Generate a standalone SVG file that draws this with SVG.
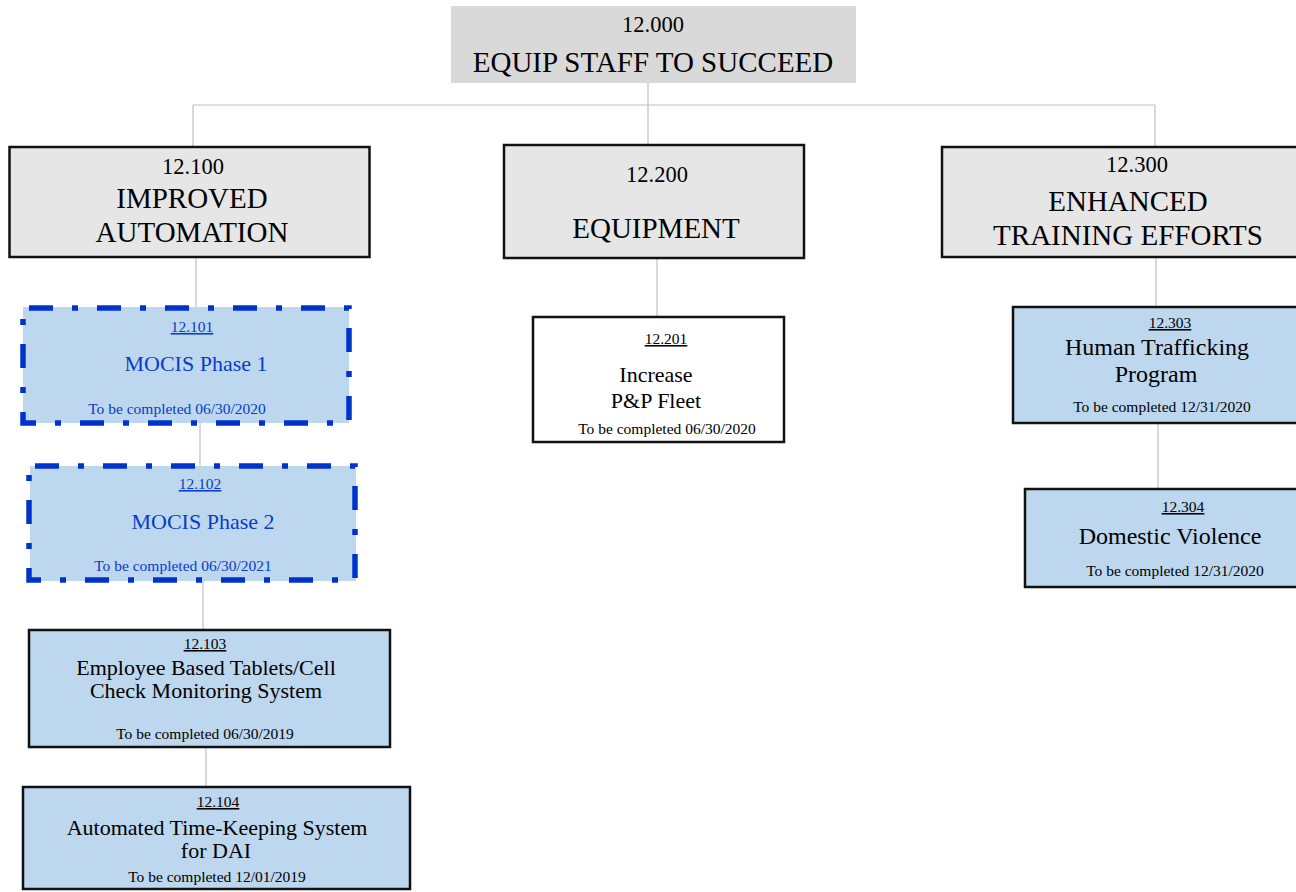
<svg xmlns="http://www.w3.org/2000/svg" width="1296" height="892" viewBox="0 0 1296 892">
<style>
text{font-family:"Liberation Serif","Times New Roman",serif;text-anchor:middle;fill:#000}
.big{font-size:29px}
.num{font-size:22.5px}
.snum{font-size:15.5px;text-decoration:underline}
.mid{font-size:22px}
.mid2{font-size:24px}
.date{font-size:15.5px}
.blue{fill:#0a3bcc}
.l1{fill:#e6e6e6;stroke:#111;stroke-width:2.5}
.leaf{fill:#bdd7ee;stroke:#111;stroke-width:2.5}
.white{fill:#fff;stroke:#111;stroke-width:2.5}
.dfill{fill:#bdd7ee;stroke:none}
.dash{fill:none;stroke:#0033cc;stroke-width:5.5;stroke-dasharray:24 19 6 19;stroke-dashoffset:62}
.conn line{stroke:#c0c0c0;stroke-width:1.2}
</style>
<rect width="1296" height="892" fill="#fff"/>
<g class="conn" id="connectors">
<line x1="648" y1="83" x2="648" y2="145"/>
<line x1="193" y1="105" x2="1155" y2="105"/>
<line x1="193" y1="105" x2="193" y2="147"/>
<line x1="1155" y1="105" x2="1155" y2="147"/>
<line x1="196" y1="257" x2="196" y2="308"/>
<line x1="200" y1="423" x2="200" y2="466"/>
<line x1="203" y1="581" x2="203" y2="630"/>
<line x1="206" y1="747" x2="206" y2="787"/>
<line x1="657" y1="258" x2="657" y2="317"/>
<line x1="1156" y1="257" x2="1156" y2="307"/>
<line x1="1158" y1="423" x2="1158" y2="489"/>
</g>
<g id="n12000">
<rect x="451" y="6" width="405" height="77" fill="#d9d9d9"/>
<text class="num" x="653" y="32">12.000</text>
<text class="big" x="653" y="72">EQUIP STAFF TO SUCCEED</text>
</g>
<g id="n12100">
<rect class="l1" x="9.5" y="147" width="360" height="110"/>
<text class="num" x="193" y="174">12.100</text>
<text class="big" x="192" y="208">IMPROVED</text>
<text class="big" x="192" y="242">AUTOMATION</text>
</g>
<g id="n12101">
<rect class="dfill" x="23" y="307" width="326" height="116"/>
<rect class="dash" x="23" y="308" width="326" height="115"/>
<text class="snum blue" x="192" y="332">12.101</text>
<text class="mid blue" x="196" y="371">MOCIS Phase 1</text>
<text class="date blue" x="177" y="414">To be completed 06/30/2020</text>
</g>
<g id="n12102">
<rect class="dfill" x="30" y="466" width="326" height="115"/>
<rect class="dash" x="29" y="466" width="326" height="114"/>
<text class="snum blue" x="200" y="489">12.102</text>
<text class="mid blue" x="203" y="529">MOCIS Phase 2</text>
<text class="date blue" x="183" y="571">To be completed 06/30/2021</text>
</g>
<g id="n12103">
<rect class="leaf" x="29" y="630" width="361" height="117"/>
<text class="snum" x="205" y="649">12.103</text>
<text class="mid" x="206" y="675">Employee Based Tablets/Cell</text>
<text class="mid" x="206" y="698">Check Monitoring System</text>
<text class="date" x="205" y="739">To be completed 06/30/2019</text>
</g>
<g id="n12104">
<rect class="leaf" x="23" y="787" width="387" height="102"/>
<text class="snum" x="218" y="807">12.104</text>
<text class="mid" x="217" y="835">Automated Time-Keeping System</text>
<text class="mid" x="216" y="858">for DAI</text>
<text class="date" x="217" y="882">To be completed 12/01/2019</text>
</g>
<g id="n12200">
<rect class="l1" x="504" y="145" width="300" height="113"/>
<text class="num" x="657" y="182">12.200</text>
<text class="big" x="656" y="238">EQUIPMENT</text>
</g>
<g id="n12201">
<rect class="white" x="533" y="317" width="251" height="125"/>
<text class="snum" x="666" y="344">12.201</text>
<text class="mid" x="656" y="382">Increase</text>
<text class="mid" x="656" y="408">P&amp;P Fleet</text>
<text class="date" x="667" y="434">To be completed 06/30/2020</text>
</g>
<g id="n12300">
<rect class="l1" x="942" y="147" width="370" height="110"/>
<text class="num" x="1137" y="172">12.300</text>
<text class="big" x="1128" y="211">ENHANCED</text>
<text class="big" x="1128" y="245">TRAINING EFFORTS</text>
</g>
<g id="n12303">
<rect class="leaf" x="1013" y="307" width="300" height="116"/>
<text class="snum" x="1170" y="328">12.303</text>
<text class="mid2" x="1157" y="355">Human Trafficking</text>
<text class="mid2" x="1156" y="382">Program</text>
<text class="date" x="1162" y="412">To be completed 12/31/2020</text>
</g>
<g id="n12304">
<rect class="leaf" x="1025" y="489" width="300" height="98"/>
<text class="snum" x="1183" y="512">12.304</text>
<text class="mid2" x="1170" y="544">Domestic Violence</text>
<text class="date" x="1175" y="576">To be completed 12/31/2020</text>
</g>
</svg>
